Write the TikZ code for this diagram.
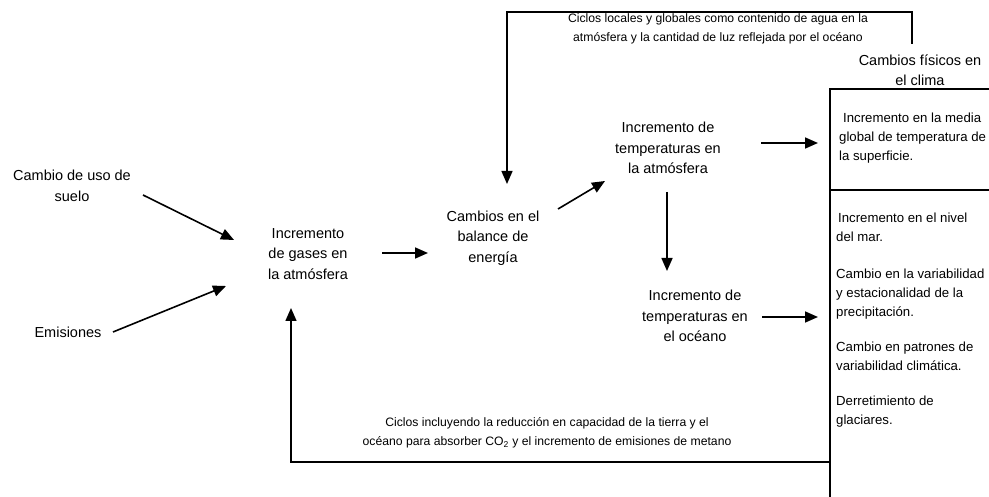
\documentclass[tikz,border=0pt]{standalone}
\usepackage{fontspec}
\setmainfont{Liberation Sans}
\usetikzlibrary{arrows.meta}
\tikzset{
  main/.style={align=center, inner sep=0pt, font=\fontsize{14.5}{20.5}\selectfont, text=black},
  boxtxt/.style={align=left, anchor=north west, inner sep=0pt, font=\fontsize{13.2}{19}\selectfont, text=black},
  lbl/.style={align=center, inner sep=0pt, font=\fontsize{12.2}{18.5}\selectfont, text=black},
  arr/.style={line width=1.6pt, -{Triangle[length=13pt,width=11pt]}},
  frame/.style={line width=1.4pt},
  loop/.style={line width=1.4pt, -{Triangle[length=13pt,width=11pt]}}
}
\begin{document}
\begin{tikzpicture}[x=1pt,y=-1pt]
\useasboundingbox (0,0) rectangle (989,497);
\clip (0,0) rectangle (989,497);
\fill[white] (0,0) rectangle (989,497);

% text nodes
\node[main] (land) at (72,186) {Cambio de uso de\\suelo};
\node[main] (emis) at (68,332) {Emisiones};
\node[main] (gases) at (308,254) {Incremento\\de gases en\\la atmósfera};
\node[main] (balance) at (493,238) {Cambios en el\\balance de\\energía};
\node[main] (tatm) at (668,148) {Incremento de\\temperaturas en\\la atmósfera};
\node[main] (toc) at (695,316) {Incremento de\\temperaturas en\\el océano};
\node[main] (phys) at (920,70) {Cambios físicos en\\el clima};

% right box
\draw[frame] (989,89) -- (830,89) -- (830,497);
\draw[frame] (830,190) -- (989,190);

\node[boxtxt] (b1) at (839,113) {\hspace{4pt}Incremento en la media\\global de temperatura de\\la superficie.};
\node[boxtxt] (b2) at (836,213) {\hspace{2pt}Incremento en el nivel\\del mar.};
\node[boxtxt] (b3) at (836,269) {Cambio en la variabilidad\\y estacionalidad de la\\precipitación.};
\node[boxtxt] (b4) at (836,342) {Cambio en patrones de\\variabilidad climática.};
\node[boxtxt] (b5) at (836,396) {Derretimiento de\\glaciares.};

% loop labels
\node[lbl] (toplbl) at (718,29) {Ciclos locales y globales como contenido de agua en la\\atmósfera y la cantidad de luz reflejada por el océano};
\node[lbl] (botlbl) at (547,433) {Ciclos incluyendo la reducción en capacidad de la tierra y el\\océano para absorber CO\textsubscript{2} y el incremento de emisiones de metano};

% arrow endpoints
\coordinate (a1s) at (143,195); \coordinate (a1e) at (234,240);
\coordinate (a2s) at (113,332); \coordinate (a2e) at (226,286);
\coordinate (a3s) at (382,253); \coordinate (a3e) at (428,253);
\coordinate (a4s) at (558,209); \coordinate (a4e) at (605,181);
\coordinate (a5s) at (761,143); \coordinate (a5e) at (818,143);
\coordinate (a6s) at (667,192); \coordinate (a6e) at (667,271);
\coordinate (a7s) at (762,317); \coordinate (a7e) at (818,317);

\draw[arr] (a1s) -- (a1e);
\draw[arr] (a2s) -- (a2e);
\draw[arr] (a3s) -- (a3e);
\draw[arr] (a4s) -- (a4e);
\draw[arr] (a5s) -- (a5e);
\draw[arr] (a6s) -- (a6e);
\draw[arr] (a7s) -- (a7e);

% top feedback loop
\coordinate (t0) at (912,44);
\coordinate (t3) at (507,184);
\draw[loop] (t0) -- (912,12) -- (507,12) -- (t3);

% bottom feedback loop
\coordinate (u0) at (830,462);
\coordinate (u3) at (291,308);
\draw[loop] (u0) -- (291,462) -- (u3);
\end{tikzpicture}
\end{document}
